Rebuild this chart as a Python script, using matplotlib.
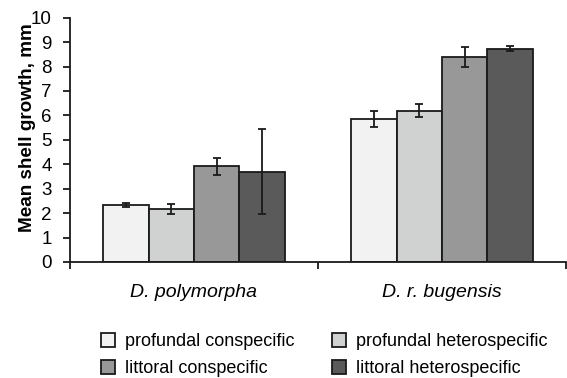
import matplotlib
matplotlib.use("Agg")
import matplotlib.pyplot as plt
from matplotlib.patches import Patch
import numpy as np

plt.rcParams['font.family'] = ['Liberation Sans', 'DejaVu Sans']

categories = ["D. polymorpha", "D. r. bugensis"]
series = ["profundal conspecific", "profundal heterospecific",
          "littoral conspecific", "littoral heterospecific"]
values = {
    "profundal conspecific":    [2.32, 5.86],
    "profundal heterospecific": [2.17, 6.20],
    "littoral conspecific":     [3.91, 8.40],
    "littoral heterospecific":  [3.70, 8.73],
}
errors = {
    "profundal conspecific":    [0.08, 0.32],
    "profundal heterospecific": [0.21, 0.25],
    "littoral conspecific":     [0.35, 0.40],
    "littoral heterospecific":  [1.75, 0.11],
}
colors = ["#f2f2f2", "#d0d2d1", "#989898", "#5a5a5a"]
yticks = list(range(0, 11))

fig = plt.figure(figsize=(5.67, 3.78), dpi=100)
W, H = 567, 378
ax = fig.add_axes([70 / W, (H - 262) / H, (566 - 70) / W, (262 - 17.7) / H])

x = np.arange(len(categories)) + 0.5
bw = 0.1825
for i, s in enumerate(series):
    pos = x + (i - 1.5) * bw
    ax.bar(pos, values[s], width=bw, color=colors[i], edgecolor="#1a1a1a",
           linewidth=1.3, zorder=2)
    ax.errorbar(pos, values[s], yerr=errors[s], fmt="none", ecolor="#1a1a1a",
                elinewidth=1.3, capsize=3.2, capthick=1.3, zorder=3)

ax.set_xlim(0, len(categories))
ax.set_ylim(0, 10)
ax.set_yticks(yticks)
ax.set_yticklabels([str(t) for t in yticks], fontsize=13.5)
ax.set_xticks(x)
ax.set_xticklabels(categories, fontsize=14, style="italic")
ax.tick_params(axis="x", which="major", length=0, pad=16)
ax.set_xticks(np.arange(len(categories) + 1), minor=True)
ax.tick_params(axis="x", which="minor", length=5, width=1.3, color="#1a1a1a")
ax.tick_params(axis="y", length=5, width=1.3, color="#1a1a1a", pad=8)
for sp in ["top", "right"]:
    ax.spines[sp].set_visible(False)
for sp in ["left", "bottom"]:
    ax.spines[sp].set_linewidth(1.3)
    ax.spines[sp].set_color("#1a1a1a")
ax.spines["left"].set_bounds(0, 10)

ax.set_ylabel("Mean shell growth, mm", fontsize=13.6, fontweight="bold")
ax.yaxis.set_label_coords(-0.068, 0.55)

handles = [Patch(facecolor=colors[i], edgecolor="#1a1a1a", linewidth=1.3, label=series[i])
           for i in range(4)]
order = [0, 2, 1, 3]
fig.legend([handles[i] for i in order], [series[i] for i in order], ncol=2,
           frameon=False, fontsize=13, loc="upper left",
           bbox_to_anchor=(85 / W, 1 - 317 / H), handlelength=0.78, handleheight=0.78,
           handletextpad=0.55, columnspacing=2.05, labelspacing=0.55)

fig.savefig("out.png", dpi=100)
